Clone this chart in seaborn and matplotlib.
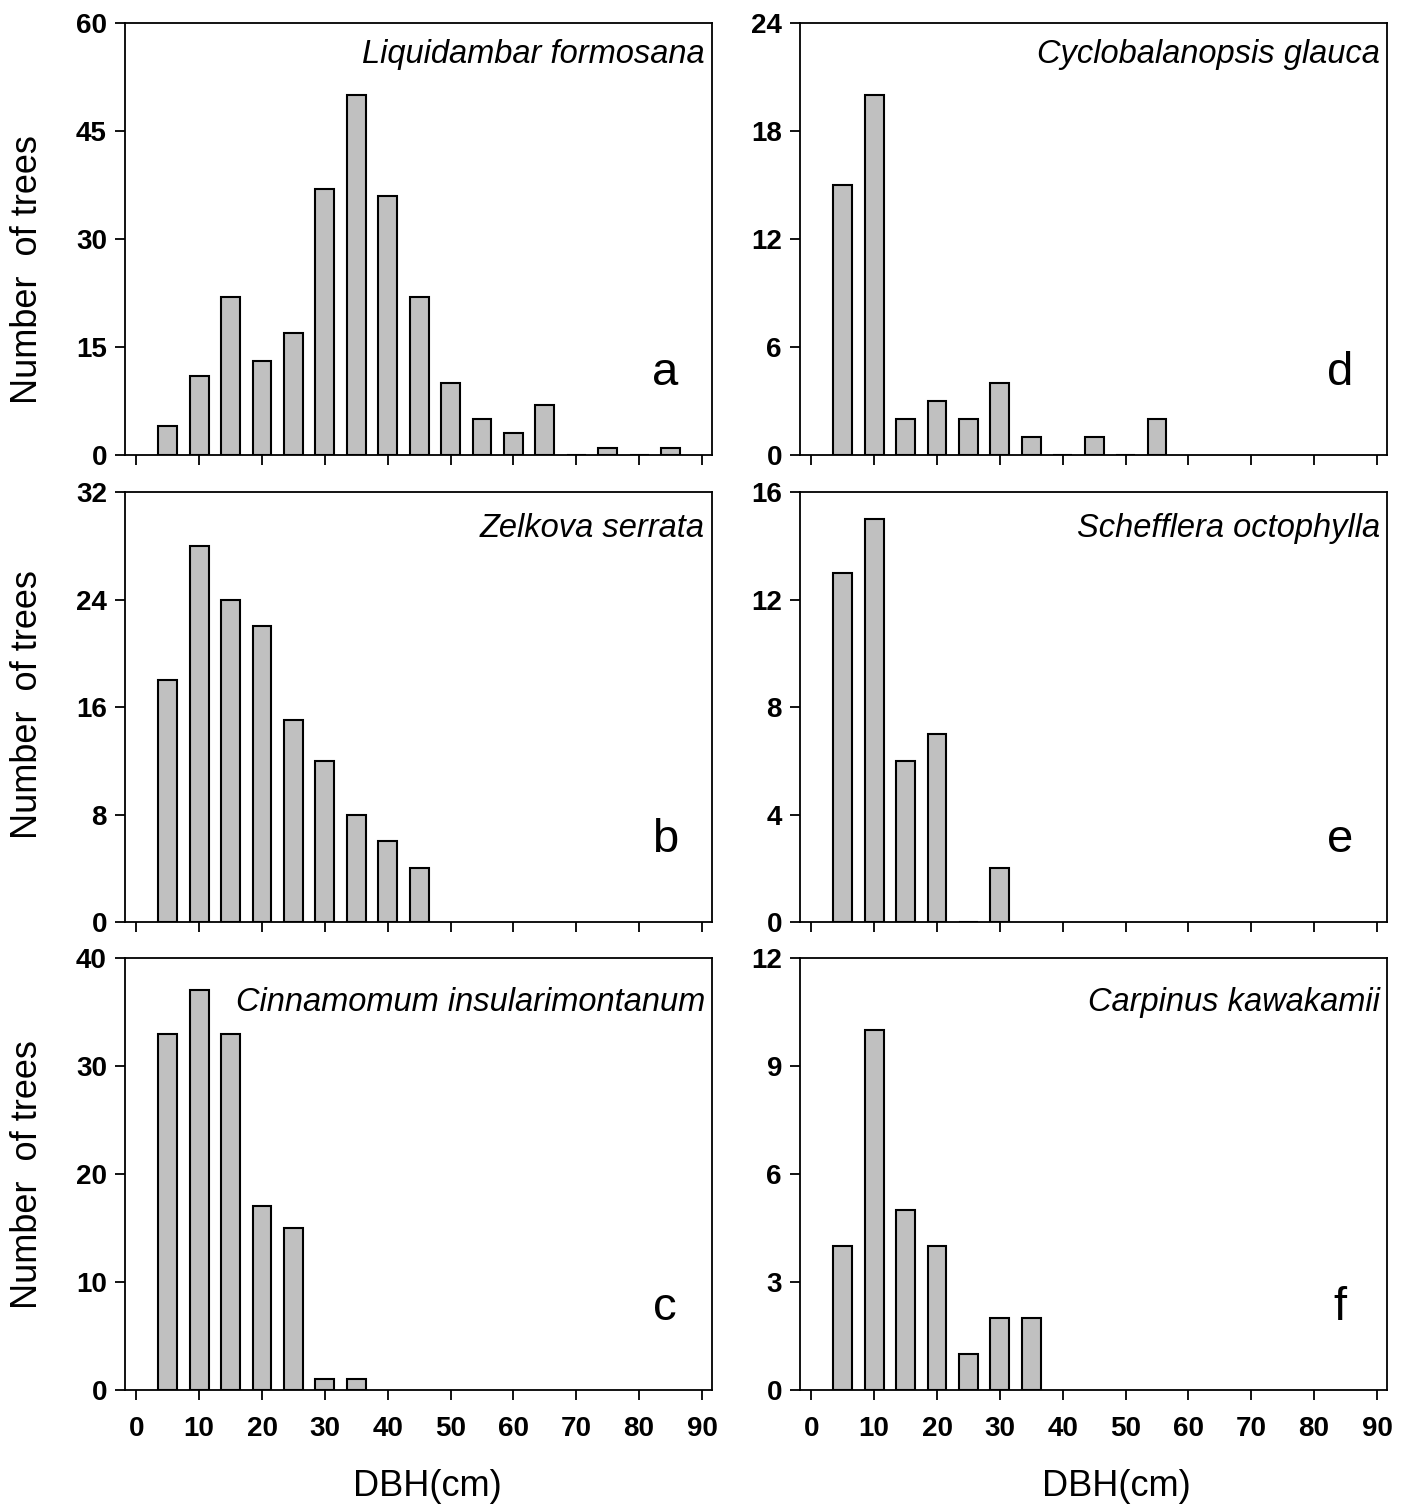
import matplotlib
matplotlib.use("Agg")
import matplotlib.pyplot as plt
from matplotlib import font_manager
import seaborn as sns
from pandas import DataFrame

# DBH class midpoints (cm) and tree counts per species
dbh = [5, 10, 15, 20, 25, 30, 35, 40, 45, 50, 55, 60, 65, 70, 75, 80, 85]

liquidambar = [4, 11, 22, 13, 17, 37, 50, 36, 22, 10, 5, 3, 7, 0, 1, 0, 1]
zelkova = [18, 28, 24, 22, 15, 12, 8, 6, 4]
cinnamomum = [33, 37, 33, 17, 15, 1, 1]
cyclobalanopsis = [15, 20, 2, 3, 2, 4, 1, 0, 1, 0, 2]
schefflera = [13, 15, 6, 7, 0, 2]
carpinus = [4, 10, 5, 4, 1, 2, 2]

species = ["Liquidambar formosana", "Zelkova serrata", "Cinnamomum insularimontanum",
           "Cyclobalanopsis glauca", "Schefflera octophylla", "Carpinus kawakamii"]
counts = [liquidambar, zelkova, cinnamomum, cyclobalanopsis, schefflera, carpinus]
letters = ["a", "b", "c", "d", "e", "f"]
y_max = [60, 32, 40, 24, 16, 12]
y_step = [15, 8, 10, 6, 4, 3]
x_ticks = [0, 10, 20, 30, 40, 50, 60, 70, 80, 90]

sns.set_style("ticks")
names = {f.name for f in font_manager.fontManager.ttflist}
base_font = "Liberation Sans" if "Liberation Sans" in names else "DejaVu Sans"
narrow_font = "Liberation Sans Narrow" if "Liberation Sans Narrow" in names else base_font
plt.rcParams["font.family"] = [base_font, "DejaVu Sans"]
plt.rcParams["text.color"] = "black"
plt.rcParams["axes.edgecolor"] = "black"
plt.rcParams["xtick.color"] = "black"
plt.rcParams["ytick.color"] = "black"

fig = plt.figure(figsize=(14.01, 15.07), dpi=100)

W, H = 1401, 1507
cols = [(125, 712), (800, 1387)]
rows = [(23, 455), (492, 922), (958, 1390)]
name_y = [0.926, 0.916, 0.896]
ylabel_center = [270, 705, 1175]
xlabel_center = [427, 1116]

for i in range(6):
    c, r = divmod(i, 3)
    x0, x1 = cols[c]
    top, bot = rows[r]
    ax = fig.add_axes([x0 / W, 1 - bot / H, (x1 - x0) / W, (bot - top) / H])
    vals = counts[i]
    df = DataFrame({"dbh": dbh[:len(vals)], "count": vals})
    sns.barplot(data=df, x="dbh", y="count", native_scale=True, width=0.6,
                color="#c0c0c0", saturation=1, edgecolor="black", linewidth=1.5,
                errorbar=None, ax=ax)
    ax.set_xlim(-1.8, 91.6)
    ax.set_ylim(0, y_max[i])
    ax.set_yticks(range(0, y_max[i] + 1, y_step[i]))
    ax.set_xticks(x_ticks)
    ax.set_xlabel("")
    ax.set_ylabel("")
    for s in ax.spines.values():
        s.set_linewidth(1.3)
        s.set_visible(True)
    ax.tick_params(axis="both", direction="out", length=7, width=1.3, pad=6,
                   labelcolor="black")
    for lab in ax.get_yticklabels():
        lab.set_fontfamily(narrow_font)
        lab.set_fontweight("bold")
        lab.set_fontsize(20)
    if r == 2:
        ax.set_xticklabels([str(t) for t in x_ticks])
        for lab in ax.get_xticklabels():
            lab.set_fontfamily(narrow_font)
            lab.set_fontweight("bold")
            lab.set_fontsize(20)
        ax.tick_params(axis="x", pad=12)
    else:
        ax.set_xticklabels([])
    ax.text(0.988, name_y[r], species[i], transform=ax.transAxes, ha="right",
            va="center", fontsize=23.5, style="italic", color="black")
    ax.text(0.92, 0.19, letters[i], transform=ax.transAxes, ha="center",
            va="center", fontsize=34, color="black")

for r in range(3):
    fig.text(28 / W, 1 - ylabel_center[r] / H, "Number  of trees", rotation=90,
             ha="center", va="center", fontsize=26, color="black")

for xc in xlabel_center:
    fig.text(xc / W, 1 - 1487 / H, "DBH(cm)", ha="center",
             va="center", fontsize=26, color="black")

fig.savefig("out.png", dpi=100)
